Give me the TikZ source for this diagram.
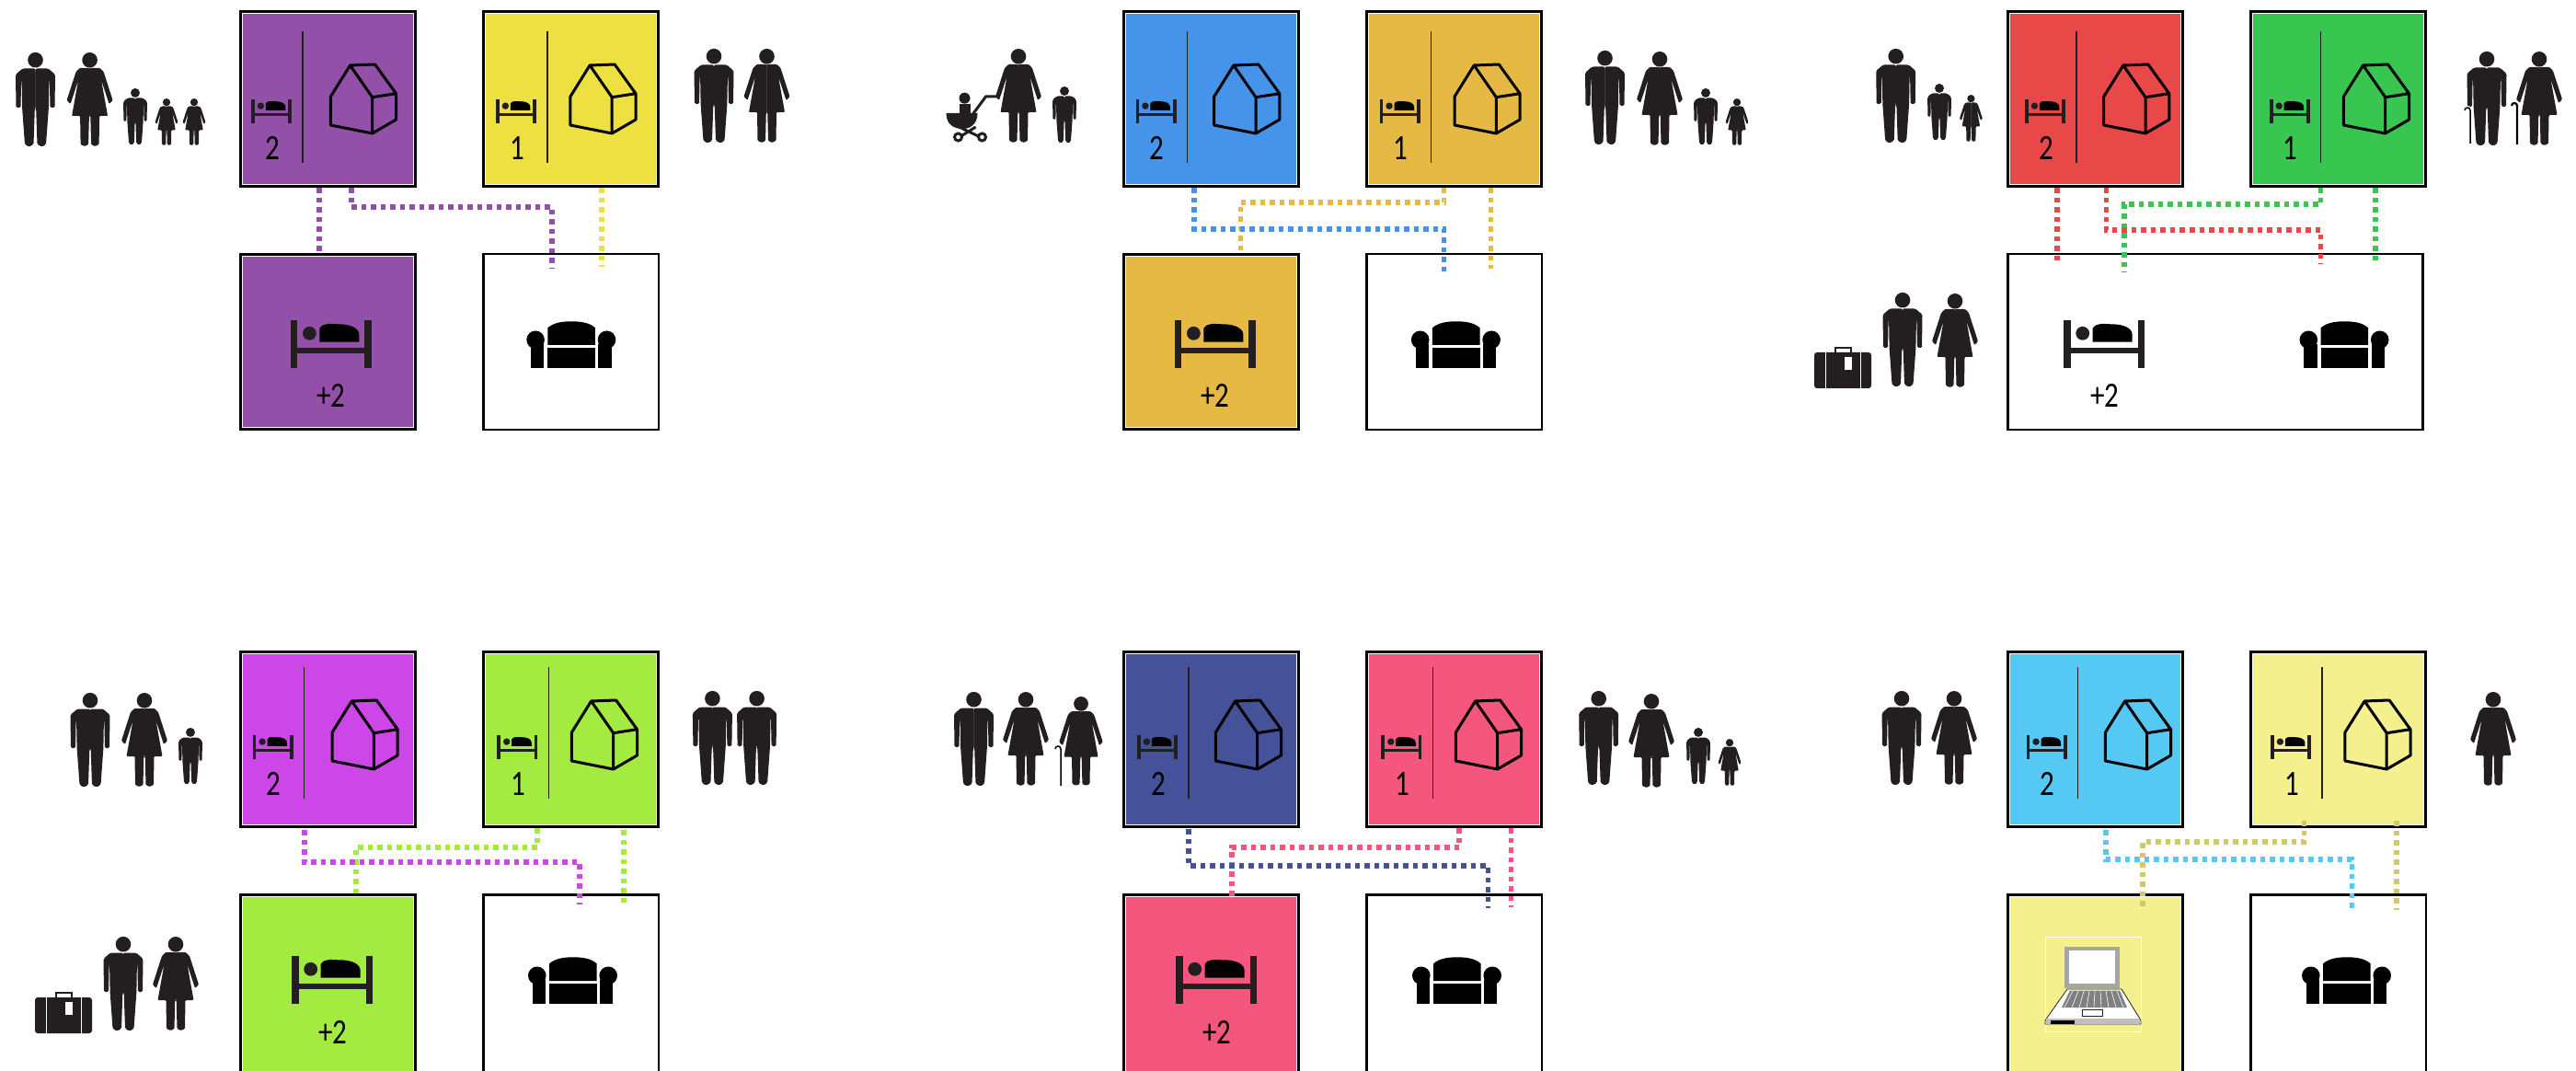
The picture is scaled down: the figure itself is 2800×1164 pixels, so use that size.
\documentclass[tikz,border=0pt]{standalone}
\usepackage{fontspec}
\setmainfont{Carlito}
\usetikzlibrary{calc}
\definecolor{rmPurple}{HTML}{9350A8}
\definecolor{rmYellow}{HTML}{EEE040}
\definecolor{rmBlue}{HTML}{4694EA}
\definecolor{rmGold}{HTML}{E6B945}
\definecolor{rmRed}{HTML}{E94848}
\definecolor{rmGreen}{HTML}{38C650}
\definecolor{rmMagenta}{HTML}{CD46E8}
\definecolor{rmLime}{HTML}{A3EB40}
\definecolor{rmNavy}{HTML}{45529A}
\definecolor{rmPink}{HTML}{F5567D}
\definecolor{rmCyan}{HTML}{55C8F4}
\definecolor{rmPale}{HTML}{F4F08E}
\definecolor{rmOlive}{HTML}{CFC96A}
\definecolor{rmInk}{HTML}{231F20}
\newcommand{\narrow}[1]{\scalebox{0.8}[1]{#1}}
\tikzset{
  rmbox/.style={draw=black, line width=0.03cm, fill=#1, inner sep=0pt,
    minimum width=1.9cm, minimum height=1.9cm, anchor=north west,
    path picture={\draw[white, line width=0.013cm]
      ($(path picture bounding box.south west)+(2.2,-2.2)$) rectangle
      ($(path picture bounding box.north east)+(-2.2,2.2)$);}},
  rmplain/.style={draw=black, line width=0.025cm, fill=white, inner sep=0pt,
    minimum width=1.905cm, minimum height=1.905cm, anchor=north west},
  rmlink/.style={draw=#1, line width=0.055cm, dash pattern=on 0.055cm off 0.05cm},
  rmnum/.style={font=\fontsize{11pt}{12pt}\selectfont, inner sep=0pt, text=black},
  % small and big bed, origin top left
  bed/.pic={
    \fill[rmInk] (0,0) rectangle (7.5,52);
    \fill[rmInk] (80.5,0) rectangle (88,52);
    \fill[rmInk] (7,29.7) rectangle (81,36.3);
    \fill[rmInk] (20.7,14.3) circle [radius=7.4];
    \fill[black] (31.6,23.7) -- (31.6,9) .. controls (36,2) and (44,4.3) .. (52,4.3)
      .. controls (64,4.3) and (74.7,8) .. (74.7,16) -- (74.7,23.7) -- cycle;
  },
  sofa/.pic={
    \fill[black] (23,25.7) -- (23,7) .. controls (30,1) and (40,0) .. (48.8,0)
      .. controls (58,0) and (68,1) .. (74.6,7) -- (74.6,25.7) -- cycle;
    \fill[black] (23,28.3) rectangle (74.6,50.7);
    \fill[black] (9.8,20) circle [radius=9.8];
    \fill[black] (4.6,25) rectangle (19,50.7);
    \fill[black] (78,25) rectangle (92.4,50.7);
    \fill[black] (87.2,20) circle [radius=9.8];
  },
  housemark/.pic={
    \draw[line width=0.03cm, line join=round, black]
      (99.4,125) -- (99.4,94) -- (120.6,60) -- (147.6,59) -- (170.5,90.7)
      -- (170.5,119) -- (144.7,134) -- cycle
      (120.6,60) -- (144.7,94.7) -- (170.5,90.7)
      (144.7,94.7) -- (144.7,134);
  },
  cardmarks/.pic={
    \draw[line width=0.013cm, rmInk] (69,23) -- (69,166);
    \pic[scale=0.5] at (13,97) {bed};
    \node[rmnum] (-num) at (36,150) {\narrow{#1}};
  },
  man/.pic={
    \fill[rmInk] (0,8.2) circle [radius=8.3];
    \foreach \s in {1,-1} {
      \fill[rmInk, xscale=\s, rounded corners=0.015cm] (-0.2,17.5) -- (14,17.5) -- (21.5,24)
        -- (21,60) -- (16,60) -- (15.4,30) -- (14.9,30) -- (14.4,60) -- (11.5,100)
        -- (7,102.5) -- (2,100) -- (0.7,62) -- (-0.2,60) -- cycle;
    }
  },
  woman/.pic={
    \fill[rmInk] (0,8.3) circle [radius=8.3];
    \foreach \s in {1,-1} {
      \fill[rmInk, xscale=\s, rounded corners=0.01cm] (-0.2,17) -- (11,17) -- (15,21)
        -- (25,52) -- (21,56) -- (12.5,30) -- (19.5,69) -- (10.5,69) -- (10,100)
        -- (5.5,102) -- (1.5,100) -- (0.7,69) -- (-0.2,69) -- cycle;
    }
  },
  cane/.pic={
    \draw[black, line cap=butt, preaction={draw=white, line width=0.04cm}]
      (0,#1) -- (0,3) .. controls (0,-1) and (-6,-1) .. (-6,3);
  },
  suitcase/.pic={
    \fill[rmInk, rounded corners=0.03cm] (0,6) rectangle (62,45);
    \draw[rmInk, line width=0.02cm] (23,6) -- (23,1) -- (40,1) -- (40,6);
    \fill[white] (11.5,6) rectangle (13,45);
    \fill[white] (49.5,6) rectangle (51,45);
    \fill[white] (33,11) rectangle (41,25);
  },
  stroller/.pic={
    \fill[rmInk] (21,6.7) circle [radius=6];
    \fill[rmInk] (15,13) rectangle (27,25);
    \fill[rmInk] (1,23) .. controls (1,36) and (10,40) .. (19,40) .. controls (28,40) and (35,34) .. (35,23) -- cycle;
    \draw[rmInk, line width=0.03cm] (30,24) -- (44,5) -- (58,5);
    \draw[rmInk, line width=0.03cm] (15,38) -- (40,50) (33,38) -- (14,50);
    \draw[rmInk, line width=0.03cm, fill=white] (14,49) circle [radius=4];
    \draw[rmInk, line width=0.03cm, fill=white] (40,49) circle [radius=4];
  },
  laptop/.pic={
    \draw[white, line width=0.008cm] (42,47) rectangle (146.5,150);
    \fill[gray!70] (63,58) rectangle (123,103);
    \fill[white] (68,62) rectangle (118,98);
    \fill[white, draw=rmInk, line width=0.008cm] (66,104) -- (125,104) -- (146,138) -- (146,142) -- (42,142) -- (42,138) -- cycle;
    \fill[gray] (69,105.5) -- (123,105.5) -- (131,124) -- (60,124) -- cycle;
    \foreach \k in {0,1,...,8} {
      \draw[white, line width=0.006cm] (72+\k*6,106) -- (63+\k*8,124);
    }
    \draw[rmInk, line width=0.01cm, fill=white] (82,126) rectangle (104,133);
    \fill[gray!50] (43,136) rectangle (145,142);
    \fill[black] (47.7,138) rectangle (73.5,142);
  },
}

\begin{document}
\begin{tikzpicture}[x=0.01cm, y=-0.01cm]
  \useasboundingbox (0,0) rectangle (2800,1164);

  % --- Top row, first family ---------------------------------------------
  \node[rmbox=rmPurple] (a1) at (260,11) {};
  \node[rmbox=rmYellow] (a2) at (524,11) {};
  \node[rmbox=rmPurple] (a3) at (260,275) {};
  \node[rmplain]        (a4) at (524,275) {};
  \draw[rmlink=rmPurple] ($(a1.south west)+(87,0)$) -- ($(a3.north west)+(87,0)$);
  \draw[rmlink=rmPurple] ($(a1.south west)+(122,0)$) -- ++(0,21) -| ($(a4.north west)+(76,16)$);
  \draw[rmlink=rmYellow] ($(a2.south west)+(130,0)$) -- ($(a4.north west)+(130,15)$);
  \pic at (a1.north west) {cardmarks=2};
  \pic at (a1.north west) {housemark};
  \pic at ($(a2.north west)+(2,0)$) {cardmarks=1};
  \pic at ($(a2.north west)+(-3.5,0)$) {housemark};
  \pic at ($(a3.north west)+(55.7,73)$) {bed};
  \node[rmnum] (a3num) at ($(a3.north west)+(100,155)$) {\narrow{+2}};
  \pic at ($(a4.north west)+(48.3,74.3)$) {sofa};
  \pic at (38.5,57) {man};
  \pic at (97.6,57) {woman};
  \pic[scale=0.6] at (147,96) {man};
  \pic[scale=0.5] at (181,107) {woman};
  \pic[scale=0.5] at (211,107) {woman};
  \pic at (776,53) {man};
  \pic at (833.5,53) {woman};

  % --- Top row, pram family ----------------------------------------------
  \node[rmbox=rmBlue] (b1) at (1220,11) {};
  \node[rmbox=rmGold] (b2) at (1484,11) {};
  \node[rmbox=rmGold] (b3) at (1220,275) {};
  \node[rmplain]      (b4) at (1484,275) {};
  \draw[rmlink=rmGold] ($(b2.south west)+(85.5,0)$) -- ++(0,16) -| ($(b3.north west)+(128.5,0)$);
  \draw[rmlink=rmBlue] ($(b1.south west)+(78,0)$) -- ++(0,45) -| ($(b4.north west)+(85.5,22)$);
  \draw[rmlink=rmGold] ($(b2.south west)+(136.6,0)$) -- ($(b4.north west)+(136.6,17)$);
  \pic at ($(b1.north west)+(1.5,0)$) {cardmarks=2};
  \pic at ($(b1.north west)+(0.3,0)$) {housemark};
  \pic at ($(b2.north west)+(2.7,0)$) {cardmarks=1};
  \pic at ($(b2.north west)+(-2.4,0)$) {housemark};
  \pic at ($(b3.north west)+(56.7,73)$) {bed};
  \node[rmnum] (b3num) at ($(b3.north west)+(101,155)$) {\narrow{+2}};
  \pic at ($(b4.north west)+(49.9,74.3)$) {sofa};
  \pic at (1027.5,100) {stroller};
  \pic at (1107,53) {woman};
  \pic[scale=0.6] at (1157,94) {man};
  \pic at (1744.5,55) {man};
  \pic at (1804,56) {woman};
  \pic[scale=0.6] at (1854,96) {man};
  \pic[scale=0.5] at (1888,107) {woman};

  % --- Top row, shared lower room ----------------------------------------
  \node[rmbox=rmRed]   (c1) at (2181,11) {};
  \node[rmbox=rmGreen] (c2) at (2445,11) {};
  \node[rmplain, minimum width=4.51cm] (c3) at (2181,275) {};
  \draw[rmlink=rmRed] ($(c1.south west)+(55,0)$) -- ($(c3.north west)+(55,12)$);
  \draw[rmlink=rmGreen] ($(c2.south west)+(77.5,0)$) -- ++(0,18) -| ($(c3.north west)+(128,21)$);
  \draw[rmlink=rmRed] ($(c1.south west)+(108.4,0)$) -- ++(0,46) -| ($(c3.north west)+(341.5,12)$);
  \draw[rmlink=rmGreen] ($(c2.south west)+(137,0)$) -- ($(c3.north west)+(401,12)$);
  \pic at ($(c1.north west)+(7,0)$) {cardmarks=2};
  \pic at ($(c1.north west)+(6.3,0)$) {housemark};
  \pic at ($(c2.north west)+(8.8,0)$) {cardmarks=1};
  \pic at ($(c2.north west)+(3,0)$) {housemark};
  \pic at ($(c3.north west)+(62,73)$) {bed};
  \node[rmnum] (c3num) at ($(c3.north west)+(106.8,155)$) {\narrow{+2}};
  \pic at ($(c3.north west)+(318.5,74.3)$) {sofa};
  \pic at (2060.7,53) {man};
  \pic[scale=0.6] at (2108,91) {man};
  \pic[scale=0.5] at (2142.4,103) {woman};
  \pic at (2703,56) {man};
  \pic at (2760,56) {woman};
  \pic[line width=0.015cm] at (2685,117) {cane=39};
  \pic[line width=0.022cm] at (2736,112) {cane=45};
  \pic at (1972,377) {suitcase};
  \pic at (2068,318) {man};
  \pic at (2125,319) {woman};

  % --- Bottom row, magenta and lime --------------------------------------
  \node[rmbox=rmMagenta] (d1) at (260,707) {};
  \node[rmbox=rmLime]    (d2) at (524,707) {};
  \node[rmbox=rmLime, minimum height=2.05cm] (d3) at (260,971) {};
  \node[rmplain, minimum height=2.05cm]      (d4) at (524,971) {};
  \draw[rmlink=rmLime] ($(d2.south west)+(60,0)$) -- ++(0,21) -| ($(d3.north west)+(127,0)$);
  \draw[rmlink=rmMagenta] ($(d1.south west)+(71,2)$) -- ++(0,35) -| ($(d4.north west)+(106,12)$);
  \draw[rmlink=rmLime] ($(d2.south west)+(154,2)$) -- ($(d4.north west)+(154,12)$);
  \pic at ($(d1.north west)+(1.7,-5)$) {cardmarks=2};
  \pic at ($(d1.north west)+(1.7,-5)$) {housemark};
  \pic at ($(d2.north west)+(3.4,-5)$) {cardmarks=1};
  \pic at ($(d2.north west)+(-2,-5)$) {housemark};
  \pic at ($(d3.north west)+(57,68)$) {bed};
  \node[rmnum] (d3num) at ($(d3.north west)+(101.6,150.7)$) {\narrow{+2}};
  \pic at ($(d4.north west)+(50,69.3)$) {sofa};
  \pic at (98,753) {man};
  \pic at (157,753) {woman};
  \pic[scale=0.6] at (207,791) {man};
  \pic at (774.4,751) {man};
  \pic at (822.6,751) {man};
  \pic at (38,1078) {suitcase};
  \pic at (134,1018) {man};
  \pic at (191,1018) {woman};

  % --- Bottom row, navy and pink -----------------------------------------
  \node[rmbox=rmNavy] (e1) at (1220,707) {};
  \node[rmbox=rmPink] (e2) at (1484,707) {};
  \node[rmbox=rmPink, minimum height=2.05cm] (e3) at (1220,971) {};
  \node[rmplain, minimum height=2.05cm]      (e4) at (1484,971) {};
  \draw[rmlink=rmPink] ($(e2.south west)+(102,0)$) -- ++(0,21) -| ($(e3.north west)+(119,4)$);
  \draw[rmlink=rmNavy] ($(e1.south west)+(72,1)$) -- ++(0,40) -| ($(e4.north west)+(133.7,16)$);
  \draw[rmlink=rmPink] ($(e2.south west)+(158.4,0)$) -- ($(e4.north west)+(158.4,15)$);
  \pic at ($(e1.north west)+(3,-5)$) {cardmarks=2};
  \pic at ($(e1.north west)+(2,-5)$) {housemark};
  \pic at ($(e2.north west)+(4.4,-5)$) {cardmarks=1};
  \pic at ($(e2.north west)+(-1,-5)$) {housemark};
  \pic at ($(e3.north west)+(58,68)$) {bed};
  \node[rmnum] (e3num) at ($(e3.north west)+(103,150.7)$) {\narrow{+2}};
  \pic at ($(e4.north west)+(51,69.3)$) {sofa};
  \pic at (1058.5,752) {man};
  \pic at (1115,752) {woman};
  \pic[scale=0.95] at (1175,757) {woman};
  \pic[line width=0.015cm] at (1153,811) {cane=43};
  \pic at (1737.7,751) {man};
  \pic at (1795,754) {woman};
  \pic[scale=0.6] at (1846,791) {man};
  \pic[scale=0.5] at (1880,803) {woman};

  % --- Bottom row, laptop room -------------------------------------------
  \node[rmbox=rmCyan] (f1) at (2181,707) {};
  \node[rmbox=rmPale] (f2) at (2445,707) {};
  \node[rmbox=rmPale, minimum height=2.05cm] (f3) at (2181,971) {};
  \node[rmplain, minimum height=2.05cm]      (f4) at (2445,971) {};
  \draw[rmlink=rmOlive] ($(f2.south west)+(59.5,-8)$) -- ++(0,23) -| ($(f3.north west)+(148,17)$);
  \draw[rmlink=rmCyan] ($(f1.south west)+(108,2)$) -- ++(0,32) -| ($(f4.north west)+(111.6,18)$);
  \draw[rmlink=rmOlive] ($(f2.south west)+(160,-8)$) -- ($(f4.north west)+(160,18)$);
  \pic at ($(f1.north west)+(8.7,-5)$) {cardmarks=2};
  \pic at ($(f1.north west)+(8,-5)$) {housemark};
  \pic at ($(f2.north west)+(10,-5)$) {cardmarks=1};
  \pic at ($(f2.north west)+(4.5,-5)$) {housemark};
  \pic at (f3.north west) {laptop};
  \pic at ($(f4.north west)+(57,69.3)$) {sofa};
  \pic at (2067,751) {man};
  \pic at (2124,751) {woman};
  \pic at (2710,752) {woman};

\end{tikzpicture}
\end{document}
